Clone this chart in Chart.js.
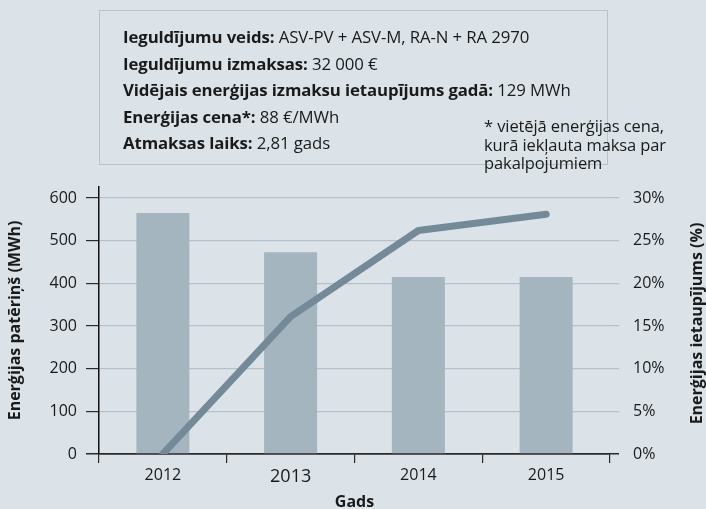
<!DOCTYPE html>
<html>
<head>
<meta charset="utf-8">
<script src="https://cdn.jsdelivr.net/npm/chart.js@4/dist/chart.umd.min.js"></script>
<style>
  html, body { margin: 0; padding: 0; background: #dbe3e8; }
  #wrap { position: relative; width: 706px; height: 509px; overflow: hidden; }
  canvas { position: absolute; left: 0; top: 0; }
  #box { position: absolute; left: 99px; top: 10px; width: 509px; height: 155px;
         border: 1px solid #b7c4cc; box-sizing: border-box; }
  .ln { position: absolute; left: 123px; font-family: "Open Sans", sans-serif; font-size: 16.8px;
        color: #1a1a1a; white-space: nowrap; line-height: 18px; letter-spacing: -0.1px; }
  .ln b { font-weight: 700; }
  #note { position: absolute; left: 484px; top: 117px; font-family: "Open Sans", sans-serif;
          font-size: 16.5px; line-height: 18.5px; color: #1a1a1a; white-space: nowrap; letter-spacing: -0.1px; }
</style>
</head>
<body>
<div id="wrap">
  <canvas id="c" width="706" height="509"></canvas>
  <div id="box"></div>
  <div class="ln" style="top:28px"><b>Ieguldījumu veids:</b> ASV-PV + ASV-M, RA-N + RA 2970</div>
  <div class="ln" style="top:55px"><b>Ieguldījumu izmaksas:</b> 32 000 €</div>
  <div class="ln" style="top:81px"><b>Vidējais enerģijas izmaksu ietaupījums gadā:</b> 129 MWh</div>
  <div class="ln" style="top:108px"><b>Enerģijas cena*:</b> 88 €/MWh</div>
  <div class="ln" style="top:134px"><b>Atmaksas laiks:</b> 2,81 gads</div>
  <div id="note">* vietējā enerģijas cena,<br>kurā iekļauta maksa par<br>pakalpojumiem</div>
</div>
<script>
const years = ['2012', '2013', '2014', '2015'];
const consumptionMWh = [565, 473, 415, 415];
const savingsPct = [0, 16.1, 26.2, 28.1];
const leftTickStep = 100;
const rightTickStep = 5;
const leftTitle = 'Enerģijas patēriņš (MWh)';
const rightTitle = 'Enerģijas ietaupījums (%)';
const xTitle = 'Gads';

const FONT = '"Open Sans", sans-serif';
const DARK = '#2a2a2a';
const GRID = '#b3c1ca';

const rightTitlePlugin = {
  id: 'rightTitle',
  afterDraw(chart) {
    const ctx = chart.ctx;
    const a = chart.chartArea;
    ctx.save();
    ctx.translate(697, (a.top + a.bottom) / 2 + 3);
    ctx.rotate(-Math.PI / 2);
    ctx.font = 'bold 16px ' + FONT;
    ctx.fillStyle = '#1a1a1a';
    ctx.textAlign = 'center';
    ctx.textBaseline = 'middle';
    ctx.fillText(rightTitle, 0, 0);
    ctx.restore();
  }
};

new Chart(document.getElementById('c'), {
  data: {
    labels: years,
    datasets: [
      {
        type: 'line',
        data: savingsPct,
        yAxisID: 'y2',
        borderColor: '#748a99',
        borderWidth: 7,
        borderCapStyle: 'round',
        borderJoinStyle: 'round',
        pointRadius: 0,
        tension: 0,
        clip: 0,
        order: 0
      },
      {
        type: 'bar',
        data: consumptionMWh,
        yAxisID: 'y',
        backgroundColor: '#a4b5bf',
        categoryPercentage: 1,
        barPercentage: 0.415,
        order: 1
      }
    ]
  },
  options: {
    responsive: false,
    animation: false,
    events: [],
    layout: { padding: { top: 187, left: 0, right: 0, bottom: 0 } },
    plugins: { legend: { display: false }, tooltip: { enabled: false } },
    scales: {
      x: {
        offset: true,
        afterFit(s) { s.height = 55; },
        grid: { display: true, drawOnChartArea: false, offset: true, tickLength: 9, color: DARK, lineWidth: 1.2 },
        border: { display: true, color: DARK, width: 1.5 },
        ticks: {
          padding: 3,
          color: '#1a1a1a',
          font: (ctx) => ctx.index === 1 ? { family: FONT, size: 18 } : { family: FONT, size: 16 }
        },
        title: { display: true, text: xTitle, font: { family: FONT, size: 16, weight: 'bold' }, color: '#1a1a1a', padding: { top: 0, bottom: -2.6 } }
      },
      y: {
        position: 'left',
        min: 0,
        max: 626,
        afterFit(s) { s.width = 99; },
        ticks: { stepSize: leftTickStep, includeBounds: false, padding: 9, color: '#1a1a1a', font: { family: FONT, size: 16 } },
        grid: {
          tickLength: 13,
          color: (c) => c.tick && c.tick.value === 0 ? DARK : GRID,
          tickColor: DARK,
          lineWidth: (c) => c.tick && c.tick.value === 0 ? 1.5 : 1.2
        },
        border: { display: true, color: '#111', width: 1.5 },
        title: { display: true, text: leftTitle, font: { family: FONT, size: 16, weight: 'bold' }, color: '#1a1a1a', padding: { top: 5.4, bottom: 0 } }
      },
      y2: {
        position: 'right',
        min: 0,
        max: 31.3,
        afterFit(s) { s.width = 96; },
        ticks: { stepSize: rightTickStep, includeBounds: false, padding: 14, color: '#1a1a1a', font: { family: FONT, size: 16 },
                 callback: (v) => v + '%' },
        grid: {
          drawOnChartArea: false,
          tickLength: 9,
          tickColor: (c) => c.tick && c.tick.value === 0 ? DARK : GRID,
          color: (c) => c.tick && c.tick.value === 0 ? DARK : GRID,
          lineWidth: (c) => c.tick && c.tick.value === 0 ? 1.5 : 1.2
        },
        border: { display: false },
        title: { display: false }
      }
    }
  },
  plugins: [rightTitlePlugin]
});
</script>
</body>
</html>
